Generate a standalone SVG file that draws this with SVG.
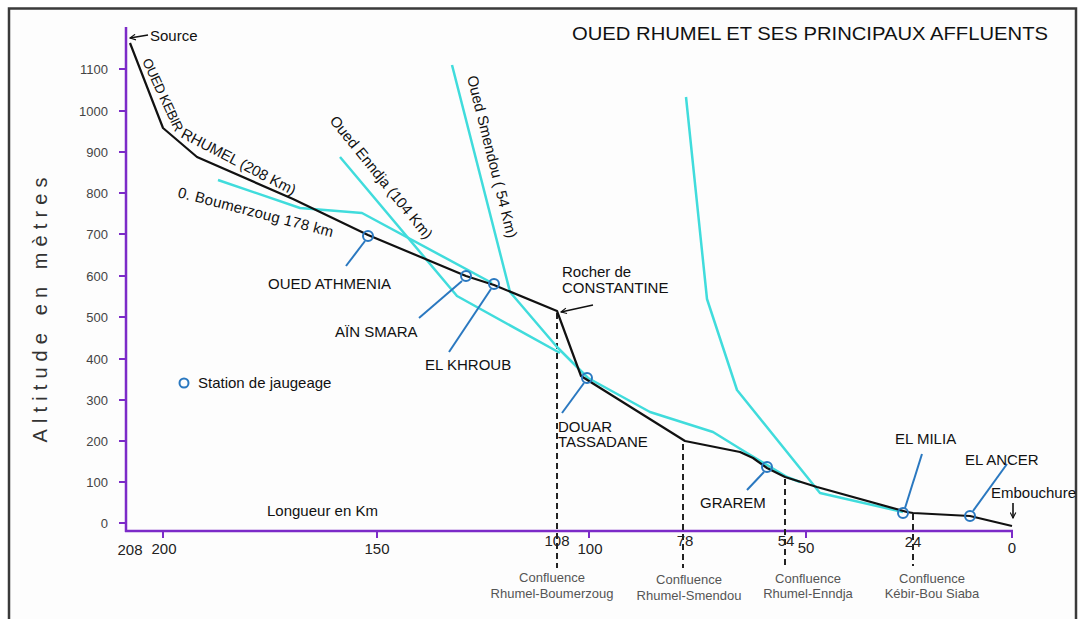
<svg xmlns="http://www.w3.org/2000/svg" width="1081" height="619" viewBox="0 0 1081 619">
<defs>
<style>
text{font-family:"Liberation Sans",Arial,sans-serif;}
.lbl{font-size:15px;fill:#111;}
.ytk{font-size:13px;fill:#444;text-anchor:end;}
.xtk{font-size:15px;fill:#222;text-anchor:middle;}
.conf{font-size:13px;fill:#555;text-anchor:middle;}
.axis{stroke:#7c2bc8;stroke-width:2.5;fill:none;}
.tick{stroke:#7c2bc8;stroke-width:2;}
.riv{stroke:#40dcdc;stroke-width:2.5;fill:none;stroke-linejoin:round;}
.main{stroke:#111;stroke-width:2.2;fill:none;stroke-linejoin:round;}
.dash{stroke:#222;stroke-width:2;stroke-dasharray:6 4;}
.st{stroke:#2a78c0;stroke-width:2;fill:none;}
.ld{stroke:#2a78c0;stroke-width:2;}
.arr{stroke:#111;stroke-width:1.6;fill:none;}
</style>
<marker id="ah" viewBox="0 0 10 10" refX="9" refY="5" markerWidth="7" markerHeight="7" orient="auto" markerUnits="userSpaceOnUse">
<path d="M1,1 L9,5 L1,9" fill="none" stroke="#111" stroke-width="1.6"/>
</marker>
</defs>
<rect x="0" y="0" width="1081" height="619" fill="#fff"/>
<rect id="frame" x="9" y="8.5" width="1067" height="640" fill="#fdfdfd" stroke="#3a3a3a" stroke-width="2.5"/>

<g id="title"><text class="lbl" x="572" y="40" textLength="476" lengthAdjust="spacingAndGlyphs" style="font-size:19px">OUED RHUMEL ET SES PRINCIPAUX AFFLUENTS</text></g>

<g id="y-axis">
<line class="axis" x1="126" y1="27" x2="126" y2="532"/>
<g class="tick">
<line x1="119" y1="69" x2="126" y2="69"/><line x1="119" y1="111" x2="126" y2="111"/><line x1="119" y1="152" x2="126" y2="152"/><line x1="119" y1="193" x2="126" y2="193"/><line x1="119" y1="234" x2="126" y2="234"/><line x1="119" y1="276" x2="126" y2="276"/><line x1="119" y1="317" x2="126" y2="317"/><line x1="119" y1="359" x2="126" y2="359"/><line x1="119" y1="400" x2="126" y2="400"/><line x1="119" y1="441" x2="126" y2="441"/><line x1="119" y1="482" x2="126" y2="482"/><line x1="119" y1="523" x2="126" y2="523"/>
</g>
<text class="ytk" x="108" y="74">1100</text><text class="ytk" x="108" y="116">1000</text><text class="ytk" x="108" y="157">900</text><text class="ytk" x="108" y="198">800</text><text class="ytk" x="108" y="239">700</text><text class="ytk" x="108" y="281">600</text><text class="ytk" x="108" y="322">500</text><text class="ytk" x="108" y="364">400</text><text class="ytk" x="108" y="405">300</text><text class="ytk" x="108" y="446">200</text><text class="ytk" x="108" y="487">100</text><text class="ytk" x="108" y="528">0</text>
<text transform="translate(47,310) rotate(-90)" text-anchor="middle" textLength="265" lengthAdjust="spacing" style="font-size:20px;fill:#333">Altitude en mètres</text>
</g>

<g id="x-axis">
<line class="axis" x1="125" y1="531" x2="1013" y2="531"/>
<g class="tick">
<line x1="163" y1="531" x2="163" y2="538"/><line x1="377" y1="531" x2="377" y2="538"/><line x1="589" y1="531" x2="589" y2="538"/><line x1="806" y1="531" x2="806" y2="538"/><line x1="1012" y1="531" x2="1012" y2="538"/>
</g>
<text class="xtk" x="130" y="555">208</text><text class="xtk" x="164" y="554">200</text><text class="xtk" x="377" y="554">150</text><text class="xtk" x="557" y="546">108</text><text class="xtk" x="590" y="554">100</text><text class="xtk" x="685" y="546">78</text><text class="xtk" x="786" y="546">54</text><text class="xtk" x="806" y="553">50</text><text class="xtk" x="913" y="547">24</text><text class="xtk" x="1012" y="553">0</text>
<text class="lbl" x="267" y="516">Longueur en Km</text>
</g>

<g id="connectors">
<line class="dash" x1="557" y1="313" x2="557" y2="568"/>
<line class="dash" x1="683" y1="444" x2="683" y2="568"/>
<line class="dash" x1="785" y1="479" x2="785" y2="568"/>
<line class="dash" x1="913" y1="514" x2="913" y2="566"/>
<line class="arr" x1="148" y1="35" x2="130" y2="38" marker-end="url(#ah)"/>
<line class="arr" x1="593" y1="305" x2="561" y2="312" marker-end="url(#ah)"/>
<line class="arr" x1="1013" y1="503" x2="1013" y2="518" marker-end="url(#ah)"/>
</g>

<g id="affluents">
<polyline id="boumerzoug" class="riv" points="218,180 300,208 362,213 492,283"/>
<polyline id="enndja" class="riv" points="340,157 457,296 560,353"/>
<polyline id="smendou" class="riv" points="452,65 510,292 557,347 588,378 650,412 713,432 747,453 787,477 800,482"/>
<polyline id="bousiaba" class="riv" points="686,97 707,299 737,390 820,493 903,512"/>
</g>

<g id="rhumel">
<polyline class="main" points="130,43 163,128 197,157 293,199 368,235 466,276 494,285 557,311 581,376 685,441 740,452 753,458 767,468 785,477 817,487 907,512 913,513 970,516 1012,526"/>
</g>

<g id="river-labels">
<text class="lbl" transform="translate(142,61) rotate(65)" textLength="79" style="font-size:13.5px">OUED KEBIR</text>
<text class="lbl" transform="translate(180,137) rotate(27.5)" textLength="127">RHUMEL  (208 Km)</text>
<text class="lbl" transform="translate(177,197) rotate(14.5)" textLength="160">0. Boumerzoug 178 km</text>
<text class="lbl" transform="translate(329,121) rotate(51)">Oued Enndja (104 Km)</text>
<text class="lbl" transform="translate(467,77) rotate(76)">Oued Smendou ( 54 Km)</text>
</g>

<g id="source"><text class="lbl" x="150" y="41">Source</text></g>
<g id="rocher"><text class="lbl" x="562" y="277">Rocher de</text><text class="lbl" x="562" y="293">CONSTANTINE</text></g>
<g id="embouchure"><text class="lbl" x="991" y="498">Embouchure</text></g>

<g id="station-athmenia"><circle class="st" cx="368" cy="236" r="5"/><line class="ld" x1="365" y1="241" x2="346" y2="266"/><text class="lbl" x="268" y="289">OUED ATHMENIA</text></g>
<g id="station-ainsmara"><circle class="st" cx="466" cy="276" r="5"/><line class="ld" x1="462" y1="281" x2="419" y2="318"/><text class="lbl" x="335" y="337">AÏN SMARA</text></g>
<g id="station-elkhroub"><circle class="st" cx="494" cy="284" r="5"/><line class="ld" x1="491" y1="289" x2="449" y2="352"/><text class="lbl" x="425" y="370">EL KHROUB</text></g>
<g id="station-douar"><circle class="st" cx="587" cy="378" r="5"/><line class="ld" x1="584" y1="383" x2="562" y2="413"/><text class="lbl" x="558" y="432">DOUAR</text><text class="lbl" x="558" y="447">TASSADANE</text></g>
<g id="station-grarem"><circle class="st" cx="767" cy="467" r="5"/><line class="ld" x1="764" y1="472" x2="747" y2="490"/><text class="lbl" x="700" y="508">GRAREM</text></g>
<g id="station-elmilia"><circle class="st" cx="903" cy="513" r="5"/><line class="ld" x1="905" y1="508" x2="922" y2="454"/><text class="lbl" x="895" y="444">EL MILIA</text></g>
<g id="station-elancer"><circle class="st" cx="970" cy="516" r="5"/><line class="ld" x1="973" y1="511" x2="1007" y2="464"/><text class="lbl" x="965" y="465">EL ANCER</text></g>

<g id="legend"><circle class="st" cx="184" cy="383" r="4.5"/><text class="lbl" x="198" y="388">Station de jaugeage</text></g>

<g id="confluences">
<text class="conf" x="552" y="582">Confluence</text><text class="conf" x="552" y="598">Rhumel-Boumerzoug</text>
<text class="conf" x="689" y="584">Confluence</text><text class="conf" x="689" y="600">Rhumel-Smendou</text>
<text class="conf" x="808" y="583">Confluence</text><text class="conf" x="808" y="598">Rhumel-Enndja</text>
<text class="conf" x="932" y="583">Confluence</text><text class="conf" x="932" y="598">Kébir-Bou Siaba</text>
</g>
</svg>
